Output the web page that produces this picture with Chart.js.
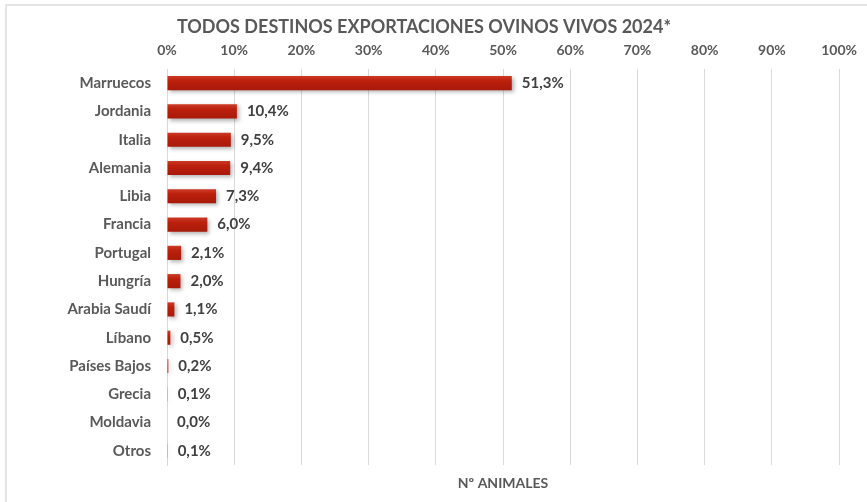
<!DOCTYPE html>
<html><head><meta charset="utf-8">
<script src="https://cdn.jsdelivr.net/npm/chart.js@4.4.1/dist/chart.umd.min.js"></script>
<style>
html,body{margin:0;padding:0;background:#fff;overflow:hidden}
#wrap{position:relative;width:867px;height:502px}
#frame{position:absolute;left:5px;top:4px;width:900px;height:600px;border-left:2px solid #e4e4e4;border-top:2px solid #e4e4e4}
canvas{position:absolute;left:0;top:0}
</style></head>
<body><div id="wrap"><div id="frame"></div><canvas id="c" width="867" height="502"></canvas></div>
<script>
const categories = ['Marruecos','Jordania','Italia','Alemania','Libia','Francia','Portugal','Hungría','Arabia Saudí','Líbano','Países Bajos','Grecia','Moldavia','Otros'];
const shares = [51.3,10.4,9.5,9.4,7.3,6.0,2.1,2.0,1.1,0.5,0.2,0.1,0.0,0.1];
const tickMax = 100;
const tickStep = 10;
const titleText = 'TODOS DESTINOS EXPORTACIONES OVINOS VIVOS 2024*';
const axisTitle = 'Nº ANIMALES';

const FONT = 'Lato, "Open Sans", sans-serif';
const GREY = '#595959';

function barFill(c){
  const chart = c.chart;
  const ys = chart.scales && chart.scales.y;
  if (!chart.chartArea || !ys) return '#b81e0a';
  const y = ys.getPixelForValue(c.dataIndex);
  const h = (chart.chartArea.bottom - chart.chartArea.top) / categories.length * 0.5;
  const g = chart.ctx.createLinearGradient(0, y - h/2, 0, y + h/2);
  g.addColorStop(0, '#cc3a26');
  g.addColorStop(0.35, '#bb200c');
  g.addColorStop(1, '#a8190a');
  return g;
}

const shadowPlugin = {
  id: 'shadow',
  beforeDatasetDraw(chart){
    const ctx = chart.ctx; ctx.save();
    ctx.shadowColor = 'rgba(0,0,0,0.3)';
    ctx.shadowBlur = 4; ctx.shadowOffsetX = 2; ctx.shadowOffsetY = 2;
  },
  afterDatasetDraw(chart){ chart.ctx.restore(); }
};

const labelPlugin = {
  id: 'valueLabels',
  afterDatasetsDraw(chart){
    const ctx = chart.ctx;
    const meta = chart.getDatasetMeta(0);
    ctx.save();
    ctx.font = 'bold 15px ' + FONT;
    ctx.fillStyle = '#404040';
    ctx.textAlign = 'left'; ctx.textBaseline = 'middle';
    meta.data.forEach((el, i) => {
      const v = chart.data.datasets[0].data[i];
      ctx.fillText(v.toFixed(1).replace('.', ',') + '%', el.x + 10, el.y);
    });
    ctx.restore();
  }
};

new Chart(document.getElementById('c'), {
  type: 'bar',
  data: { labels: categories, datasets: [{ data: shares, backgroundColor: barFill, borderWidth: 0, barPercentage: 0.5, categoryPercentage: 1 }] },
  options: {
    responsive: false, animation: false, indexAxis: 'y',
    layout: { padding: { left: 0, right: 19, top: 0, bottom: 6 } },
    plugins: {
      legend: { display: false }, tooltip: { enabled: false },
      title: { display: true, text: titleText, color: GREY, font: { family: FONT, size: 18, weight: 'bold' }, padding: { top: 16, bottom: 0 } }
    },
    scales: {
      x: {
        position: 'top', min: 0, max: tickMax,
        afterFit(s){ s.height = 31.4; },
        ticks: { stepSize: tickStep, callback: v => v + '%', color: GREY, font: { family: FONT, size: 14, weight: 'bold' }, padding: 10, maxRotation: 0 },
        grid: { color: '#d9d9d9', drawTicks: false, lineWidth: 1 },
        border: { display: false }
      },
      x2: {
        type: 'linear', position: 'bottom', min: 0, max: tickMax, axis: 'x',
        afterFit(s){ s.height = 31; },
        ticks: { display: false }, grid: { display: false, drawTicks: false }, border: { display: false },
        title: { display: true, text: axisTitle, color: GREY, font: { family: FONT, size: 14, weight: 'bold' }, padding: { top: 4, bottom: 4 } }
      },
      y: {
        afterFit(s){ s.width = 167; },
        ticks: { color: GREY, font: { family: FONT, size: 15, weight: 'bold' }, padding: 16 },
        grid: { display: false, drawTicks: false },
        border: { display: true, color: '#d9d9d9', width: 1 }
      }
    }
  },
  plugins: [shadowPlugin, labelPlugin]
});
</script>
</body></html>
